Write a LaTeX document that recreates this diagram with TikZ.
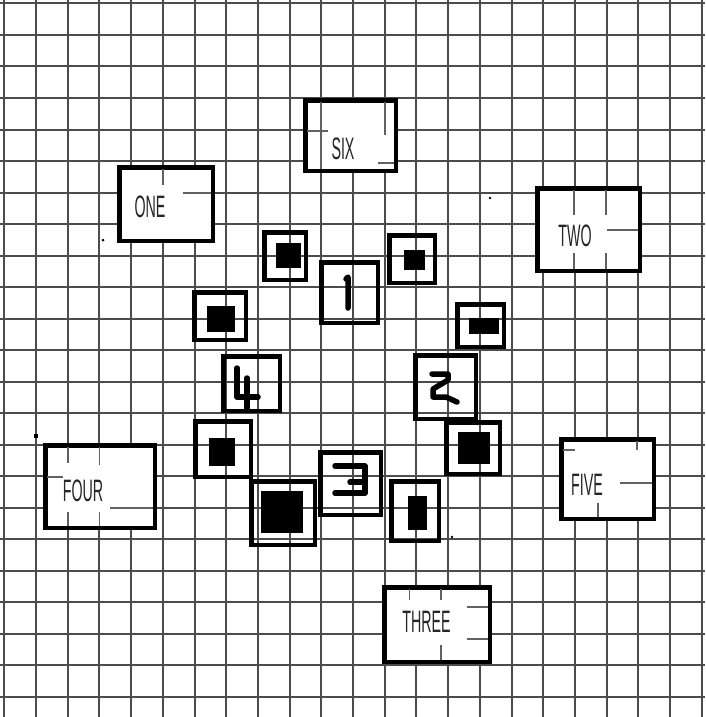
\documentclass[tikz,border=0pt]{standalone}
\usepackage{fontspec}
\newfontfamily\condfont[FakeStretch=0.46]{Liberation Sans}
\usetikzlibrary{fit}
\begin{document}
\begin{tikzpicture}[x=1pt,y=-1pt,
  gridline/.style={draw=black!70,line width=2pt},
  fragment/.style={draw=black!62,line width=1.8pt},
  labelbox/.style={draw=black,fill=white,line width=4.5pt,inner sep=0pt},
  cellbox/.style={draw=black,line width=4.5pt,inner sep=0pt},
  core/.style={fill=black,draw=none,inner sep=0pt},
  lbltext/.style={font=\condfont\fontsize{31}{31}\selectfont,text=black!85,inner sep=0pt},
  digit/.style={draw=black,line width=5.5pt,line cap=round,line join=round},
  speck/.style={fill=black,draw=none}]
\useasboundingbox[fill=white] (0,0) rectangle (705,717);
% grid
\foreach \k in {0,...,22}{
  \draw[gridline] ({4.3+31.7*\k},0) -- ({4.3+31.7*\k},717);
  \draw[gridline] (0,{3.5+31.5*\k}) -- (705,{3.5+31.5*\k});
}
% label boxes
\node[labelbox,fit={(305.25,100.25) (395.75,170.75)}] (six) {};
\node[labelbox,fit={(119.25,167.25) (212.75,240.75)}] (one) {};
\node[labelbox,fit={(537.25,188.25) (639.75,270.75)}] (two) {};
\node[labelbox,fit={(45.25,445.25) (154.75,527.75)}] (four) {};
\node[labelbox,fit={(561.25,439.25) (653.75,518.75)}] (five) {};
\node[labelbox,fit={(384.25,587.25) (489.75,661.75)}] (three) {};
% grid remnants inside label boxes
\draw[fragment] (162.8,169) -- (162.8,185) (183,193) -- (211,193);
\draw[fragment] (307,131) -- (328,131) (321,102) -- (321,169) (384.7,102) -- (384.7,135) (378,163) -- (394,163);
\draw[fragment] (574,190) -- (574,215) (574,253) -- (574,269) (606,190) -- (606,215) (606,253) -- (606,269) (607,230) -- (638,230);
\draw[fragment] (67.7,447) -- (67.7,463) (67.7,512) -- (67.7,526) (99.4,447) -- (99.4,465) (99.4,512) -- (99.4,526) (110,508) -- (153,508) (47,477) -- (63,477);
\draw[fragment] (620,483) -- (652,483) (598,503) -- (598,517) (637,441) -- (637,450) (563,450) -- (575,450);
\draw[fragment] (467,607) -- (488,607) (467,639) -- (488,639) (409.5,589) -- (409.5,600) (441,589) -- (441,600) (441,645) -- (441,660);
% label texts
\node[lbltext] (sixt) at (343,149) {SIX};
\node[lbltext] (onet) at (150,207) {ONE};
\node[lbltext] (twot) at (575,235.5) {TWO};
\node[lbltext] (fourt) at (83,491) {FOUR};
\node[lbltext] (fivet) at (587,485) {FIVE};
\node[lbltext] (threet) at (426.5,621.5) {THREE};
% cell boxes with cores
\node[cellbox,fit={(264.25,232.25) (305.75,279.75)}] (ca) {};
\node[core,fit={(276,243) (301,268)}] (ka) {};
\node[cellbox,fit={(389.25,235.25) (434.75,282.75)}] (cb) {};
\node[core,fit={(404,250) (425,270)}] (kb) {};
\node[cellbox,fit={(194.25,292.25) (245.75,339.75)}] (cd) {};
\node[core,fit={(207,306) (235,332)}] (kd) {};
\node[cellbox,fit={(457.25,304.25) (503.75,346.75)}] (ce) {};
\node[core,fit={(469,318) (499,334)}] (ke) {};
\node[cellbox,fit={(195.25,421.25) (250.75,476.75)}] (ch) {};
\node[core,fit={(209,438) (235,466)}] (kh) {};
\node[cellbox,fit={(251.25,481.25) (314.75,544.75)}] (ci) {};
\node[core,fit={(261,491) (303,533)}] (ki) {};
\node[cellbox,fit={(446.25,422.25) (499.75,473.75)}] (ck) {};
\node[core,fit={(458,432) (490,464)}] (kk) {};
\node[cellbox,fit={(391.25,481.25) (438.75,540.75)}] (cl) {};
\node[core,fit={(408,496) (427,530)}] (kl) {};
% numbered boxes
\node[cellbox,fit={(321.25,262.25) (377.75,322.75)}] (n1) {};
\node[cellbox,fit={(415.25,355.25) (475.75,418.75)}] (n2) {};
\node[cellbox,fit={(320.25,452.25) (380.75,514.75)}] (n3) {};
\node[cellbox,fit={(223.25,356.25) (279.75,410.75)}] (n4) {};
% handwritten digits
\draw[digit] (346,279) -- (348,277) -- (348,308);
\draw[digit] (432,374) -- (448,374) -- (448,380) -- (433,389) -- (433,397) -- (446,397) -- (457,402);
\draw[digit] (335,466) -- (365,466) -- (365,493) -- (335,493) (350,482) -- (365,482);
\draw[digit] (237,368) -- (237,397) -- (258,397) (247,378) -- (247,408);
% specks
\fill[speck] (103,240) circle (1.5);
\fill[speck] (490,198) circle (1.3);
\fill[speck] (452,537) circle (1.3);
\fill[speck] (34,434) rectangle (38,438);
\end{tikzpicture}
\end{document}
